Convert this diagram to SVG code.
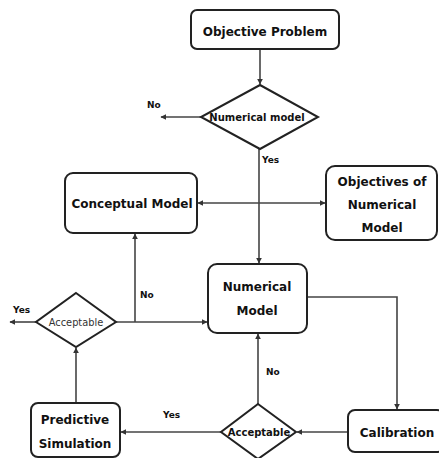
<svg xmlns="http://www.w3.org/2000/svg" width="439" height="458" viewBox="0 0 439 458">
<defs>
<marker id="ah" viewBox="0 0 10 10" refX="9" refY="5" markerWidth="6" markerHeight="6" markerUnits="userSpaceOnUse" orient="auto-start-reverse">
<path d="M0,0 L10,5 L0,10 z" fill="#333"/>
</marker>
<style>
.box{fill:#fff;stroke:#222;stroke-width:2}
.dia{fill:#fff;stroke:#222;stroke-width:2}
.ln{fill:none;stroke:#444;stroke-width:1.6}
.t{font-family:"DejaVu Sans",sans-serif;font-weight:bold;font-size:12px;fill:#111;text-anchor:middle}
.d{font-family:"DejaVu Sans",sans-serif;font-weight:bold;font-size:10px;fill:#111;text-anchor:middle}
.r{font-family:"DejaVu Sans",sans-serif;font-size:9.8px;fill:#333;text-anchor:middle}
.l{font-family:"DejaVu Sans",sans-serif;font-weight:bold;font-size:9px;fill:#111}
</style>
</defs>
<rect width="439" height="458" fill="#fff"/>
<g id="connectors">
<path class="ln" d="M260,49 V84" marker-end="url(#ah)"/>
<path class="ln" d="M201,117 H161" marker-end="url(#ah)"/>
<path class="ln" d="M259,149 V263" marker-end="url(#ah)"/>
<path class="ln" d="M198,203 H325" marker-start="url(#ah)" marker-end="url(#ah)"/>
<path class="ln" d="M116,322 H207" marker-end="url(#ah)"/>
<path class="ln" d="M135,322 V234" marker-end="url(#ah)"/>
<path class="ln" d="M36,322 H10" marker-end="url(#ah)"/>
<path class="ln" d="M76,403 V348" marker-end="url(#ah)"/>
<path class="ln" d="M307,297 H397 V409" marker-end="url(#ah)"/>
<path class="ln" d="M348,432 H297" marker-end="url(#ah)"/>
<path class="ln" d="M221,432 H121" marker-end="url(#ah)"/>
<path class="ln" d="M258,404 V334" marker-end="url(#ah)"/>
<text class="l" x="147" y="108">No</text>
<text class="l" x="262" y="163">Yes</text>
<text class="l" x="140" y="298">No</text>
<text class="l" x="13" y="313">Yes</text>
<text class="l" x="266" y="375">No</text>
<text class="l" x="163" y="418">Yes</text>
</g>
<g id="objective-problem">
<rect class="box" x="191" y="10" width="148" height="39" rx="6"/>
<text class="t" x="265" y="36">Objective Problem</text>
</g>
<g id="numerical-model-decision">
<polygon class="dia" points="260,85 318,117 260,149 201,117"/>
<text class="d" x="257" y="121">Numerical model</text>
</g>
<g id="conceptual-model">
<rect class="box" x="65" y="173" width="132" height="60" rx="8"/>
<text class="t" x="132" y="208">Conceptual Model</text>
</g>
<g id="objectives-numerical-model">
<rect class="box" x="326" y="166" width="111" height="74" rx="9"/>
<text class="t" x="382" y="186">Objectives of</text>
<text class="t" x="382" y="209">Numerical</text>
<text class="t" x="382" y="232">Model</text>
</g>
<g id="numerical-model">
<rect class="box" x="208" y="264" width="99" height="69" rx="9"/>
<text class="t" x="257" y="291">Numerical</text>
<text class="t" x="257" y="315">Model</text>
</g>
<g id="acceptable-left">
<polygon class="dia" points="76,293 116,322 76,347 36,322"/>
<text class="r" x="76" y="326">Acceptable</text>
</g>
<g id="predictive-simulation">
<rect class="box" x="31" y="403" width="89" height="54" rx="7"/>
<text class="t" x="75" y="424">Predictive</text>
<text class="t" x="75" y="448">Simulation</text>
</g>
<g id="acceptable-bottom">
<polygon class="dia" points="258,404 296,432 258,459 221,432"/>
<text class="d" x="259" y="436">Acceptable</text>
</g>
<g id="calibration">
<rect class="box" x="348" y="410" width="96" height="42" rx="7"/>
<text class="t" x="397" y="437">Calibration</text>
</g>
</svg>
